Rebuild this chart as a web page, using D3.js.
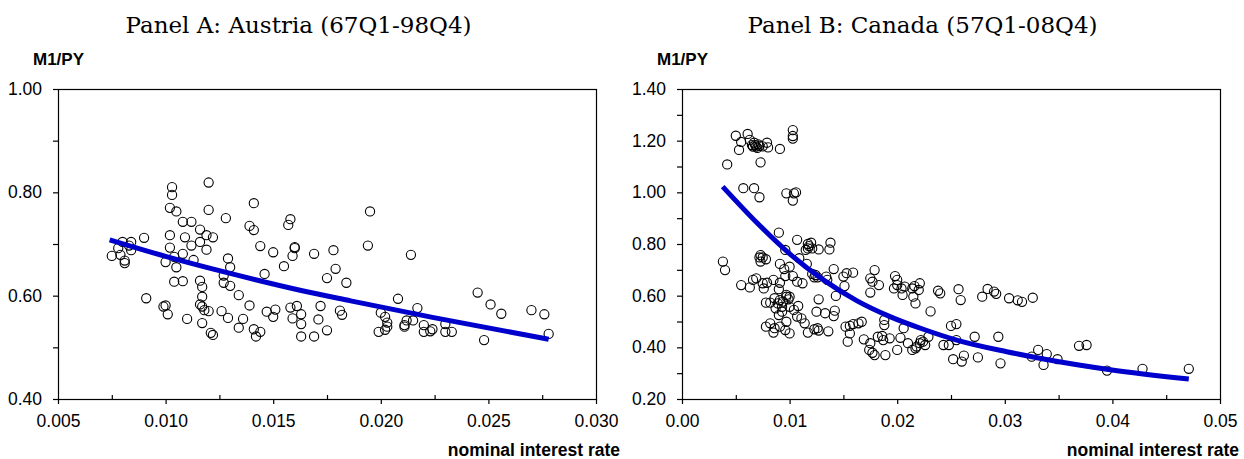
<!DOCTYPE html>
<html>
<head>
<meta charset="utf-8">
<script src="https://cdn.jsdelivr.net/npm/d3@7"></script>
<style>
body { margin: 0; background: #fff; }
svg { display: block; }
</style>
</head>
<body>
<svg id="chart" width="1244" height="459"></svg>
<script>
// ---- Panel A: Austria ----
const austriaRate = [0.0103,0.0103,0.0120,0.0102,0.0105,0.0120,0.0128,0.0141,0.0108,0.0112,
  0.0139,0.0141,0.0158,0.0157,0.0116,0.0102,0.0109,0.0119,0.0122,0.0116,
  0.0112,0.0102,0.0119,0.0090,0.0080,0.0084,0.0083,0.0078,0.0084,0.0075,
  0.0079,0.0081,0.0081,0.0104,0.0108,0.0113,0.0100,0.0105,0.0144,0.0150,
  0.0160,0.0160,0.0159,0.0169,0.0178,0.0155,0.0129,0.0130,0.0146,0.0127,
  0.0127,0.0130,0.0104,0.0108,0.0116,0.0117,0.0117,0.0091,0.0134,0.0139,
  0.0099,0.0100,0.0101,0.0116,0.0117,0.0118,0.0120,0.0126,0.0129,0.0110,
  0.0117,0.0136,0.0134,0.0147,0.0151,0.0150,0.0158,0.0161,0.0159,0.0163,
  0.0163,0.0141,0.0144,0.0142,0.0121,0.0122,0.0163,0.0169,0.0171,0.0175,
  0.0172,0.0175,0.0179,0.0184,0.0181,0.0182,0.0195,0.0194,0.0214,0.0208,
  0.0217,0.0200,0.0202,0.0203,0.0203,0.0199,0.0202,0.0211,0.0212,0.0215,
  0.0211,0.0220,0.0220,0.0223,0.0224,0.0230,0.0230,0.0233,0.0245,0.0251,
  0.0256,0.0248,0.0270,0.0276,0.0278];
const austriaM1 = [0.810,0.795,0.819,0.770,0.763,0.766,0.750,0.779,0.743,0.743,
  0.735,0.727,0.748,0.737,0.728,0.717,0.713,0.717,0.713,0.704,
  0.697,0.693,0.689,0.712,0.704,0.704,0.697,0.692,0.688,0.677,
  0.679,0.668,0.663,0.675,0.681,0.669,0.665,0.655,0.696,0.684,
  0.694,0.692,0.677,0.681,0.688,0.657,0.672,0.655,0.642,0.639,
  0.625,0.619,0.627,0.628,0.629,0.617,0.598,0.595,0.601,0.581,
  0.579,0.581,0.564,0.583,0.579,0.572,0.570,0.570,0.557,0.555,
  0.547,0.555,0.538,0.569,0.573,0.559,0.577,0.580,0.556,0.564,
  0.545,0.535,0.530,0.521,0.528,0.524,0.521,0.521,0.554,0.533,
  0.580,0.634,0.652,0.625,0.571,0.563,0.763,0.697,0.679,0.594,
  0.576,0.567,0.559,0.548,0.540,0.530,0.534,0.543,0.552,0.552,
  0.540,0.543,0.530,0.531,0.535,0.545,0.530,0.530,0.606,0.583,
  0.565,0.514,0.572,0.564,0.526];
const austriaFitRate = [0.0074,0.0100,0.0130,0.0163,0.0186,0.0224,0.0278];
const austriaFitM1 = [0.708,0.676,0.643,0.610,0.590,0.558,0.5155];

// ---- Panel B: Canada ----
const canadaRate = [0.0050,0.0061,0.0055,0.0053,0.0063,0.0065,0.0066,0.0068,0.0069,0.0071,
  0.0067,0.0079,0.0080,0.0091,0.0103,0.0103,0.0103,0.0042,0.0073,0.0057,
  0.0067,0.0072,0.0097,0.0104,0.0106,0.0103,0.0070,0.0072,0.0075,
  0.0090,0.0107,0.0096,0.0117,0.0118,0.0120,0.0117,0.0115,0.0121,0.0127,
  0.0138,0.0137,0.0073,0.0075,0.0072,0.0078,0.0073,0.0038,0.0040,0.0109,
  0.0116,0.0091,0.0095,0.0096,0.0100,0.0103,0.0107,0.0112,0.0121,0.0124,
  0.0126,0.0123,0.0134,0.0135,0.0141,0.0150,0.0153,0.0159,0.0151,0.0143,
  0.0127,0.0055,0.0063,0.0066,0.0069,0.0076,0.0075,0.0079,0.0085,0.0091,
  0.0090,0.0097,0.0100,0.0099,0.0179,0.0175,0.0177,0.0183,0.0175,0.0198,
  0.0200,0.0200,0.0197,0.0204,0.0205,0.0207,0.0214,0.0216,0.0221,0.0220,
  0.0215,0.0217,0.0231,0.0238,0.0240,0.0257,0.0259,0.0279,0.0284,0.0290,
  0.0292,0.0304,0.0078,0.0082,0.0086,0.0089,0.0091,0.0093,0.0094,0.0087,
  0.0093,0.0090,0.0097,0.0078,0.0082,0.0086,0.0085,0.0091,0.0096,0.0100,
  0.0097,0.0100,0.0104,0.0108,0.0107,0.0111,0.0114,0.0125,0.0133,0.0142,
  0.0141,0.0117,0.0123,0.0127,0.0126,0.0136,0.0152,0.0156,0.0159,0.0164,
  0.0167,0.0156,0.0154,0.0169,0.0175,0.0174,0.0177,0.0179,0.0182,0.0186,
  0.0187,0.0193,0.0189,0.0188,0.0188,0.0200,0.0203,0.0206,0.0210,0.0214,
  0.0218,0.0221,0.0222,0.0224,0.0226,0.0229,0.0217,0.0243,0.0248,0.0250,
  0.0255,0.0255,0.0252,0.0262,0.0260,0.0275,0.0272,0.0294,0.0296,0.0312,
  0.0316,0.0326,0.0325,0.0331,0.0336,0.0339,0.0349,0.0369,0.0376,0.0395,
  0.0428,0.0471];
const canadaM1 = [1.219,1.226,1.195,1.164,1.203,1.183,1.177,1.183,1.177,1.186,
  1.192,1.192,1.174,1.168,1.241,1.218,1.208,1.108,1.116,1.016,
  1.016,0.981,0.996,0.996,1.000,0.968,1.172,1.180,1.178,
  0.844,0.816,0.777,0.800,0.792,0.805,0.783,0.777,0.783,0.779,
  0.805,0.779,0.757,0.748,0.748,0.741,0.732,0.732,0.699,0.745,
  0.723,0.723,0.703,0.676,0.712,0.676,0.654,0.648,0.684,0.680,
  0.671,0.671,0.674,0.661,0.703,0.674,0.687,0.689,0.637,0.599,
  0.586,0.641,0.632,0.661,0.667,0.628,0.648,0.650,0.661,0.650,
  0.625,0.603,0.596,0.586,0.699,0.667,0.654,0.641,0.612,0.676,
  0.661,0.641,0.628,0.628,0.603,0.635,0.628,0.637,0.648,0.622,
  0.596,0.570,0.539,0.619,0.609,0.625,0.583,0.596,0.626,0.616,
  0.607,0.590,0.573,0.573,0.590,0.570,0.583,0.557,0.577,0.551,
  0.538,0.525,0.596,0.480,0.493,0.474,0.457,0.480,0.467,0.454,
  0.499,0.557,0.545,0.560,0.519,0.512,0.493,0.538,0.532,0.542,
  0.521,0.457,0.470,0.465,0.474,0.462,0.480,0.483,0.490,0.493,
  0.499,0.454,0.422,0.431,0.416,0.390,0.379,0.370,0.441,0.444,
  0.428,0.435,0.370,0.486,0.506,0.390,0.437,0.474,0.416,0.390,
  0.403,0.416,0.428,0.422,0.409,0.441,0.396,0.409,0.409,0.483,
  0.490,0.428,0.354,0.368,0.345,0.361,0.441,0.441,0.338,0.582,
  0.576,0.592,0.364,0.390,0.332,0.374,0.354,0.406,0.409,0.310,
  0.317,0.317];
const canadaFitRate = [0.00378,0.00694,0.01004,0.01314,0.01623,0.01933,0.02243,0.02553,0.03018,0.0336,0.0398,0.0471];
const canadaFitM1 = [1.022,0.883,0.761,0.661,0.581,0.519,0.470,0.428,0.383,0.355,0.3135,0.277];

// ---- ticks and labels ----
const austriaXTicks = [0.005,0.010,0.015,0.020,0.025,0.030];
const austriaXMinor = [0.0075,0.0125,0.0175,0.0225,0.0275];
const austriaYTicks = [0.40,0.60,0.80,1.00];
const austriaYMinor = [0.50,0.70,0.90];
const canadaXTicks = [0.00,0.01,0.02,0.03,0.04,0.05];
const canadaXMinor = [0.005,0.015,0.025,0.035,0.045];
const canadaYTicks = [0.20,0.40,0.60,0.80,1.00,1.20,1.40];
const canadaYMinor = [0.30,0.50,0.70,0.90,1.10,1.30];
const panelTitles = ["Panel A: Austria (67Q1-98Q4)", "Panel B: Canada (57Q1-08Q4)"];
const yTitle = "M1/PY";
const xTitle = "nominal interest rate";

const sans = "'Liberation Sans', Arial, sans-serif";
const svg = d3.select("#chart");

function drawPanel(p){
    var x = d3.scaleLinear().domain(p.xDomain).range([p.left, p.right]);
    var y = d3.scaleLinear().domain(p.yDomain).range([p.bottom, p.top]);
    var g = svg.append("g");

    // points
    g.selectAll("circle")
        .data(d3.range(p.rate.length))
        .enter()
        .append("circle")
        .attr("cx", i => x(p.rate[i]))
        .attr("cy", i => y(p.m1[i]))
        .attr("r", 4.6)
        .attr("fill", "none")
        .attr("stroke", "#000")
        .attr("stroke-width", 1.1);

    // fitted curve
    var line = d3.line()
        .x(i => x(p.fitRate[i]))
        .y(i => y(p.fitM1[i]))
        .curve(d3.curveMonotoneX);
    g.append("path")
        .attr("d", line(d3.range(p.fitRate.length)))
        .attr("fill", "none")
        .attr("stroke", "#0000cc")
        .attr("stroke-width", 5);

    // frame
    g.append("rect")
        .attr("x", p.left + 0.5).attr("y", p.top + 0.5)
        .attr("width", p.right - p.left).attr("height", p.bottom - p.top)
        .attr("fill", "none").attr("stroke", "#000").attr("stroke-width", 1.2);

    // x axis
    var xa = g.append("g")
        .attr("transform", "translate(0," + p.bottom + ")")
        .call(d3.axisBottom(x).tickValues(p.xTicks).tickFormat(d3.format(p.xFormat))
              .tickSize(5).tickPadding(11));
    var xm = g.append("g")
        .attr("transform", "translate(0," + p.bottom + ")")
        .call(d3.axisBottom(x).tickValues(p.xMinor).tickFormat("").tickSize(-4));

    // y axis
    var ya = g.append("g")
        .attr("transform", "translate(" + p.left + ",0)")
        .call(d3.axisLeft(y).tickValues(p.yTicks).tickFormat(d3.format(".2f"))
              .tickSize(5).tickPadding(11));
    var ym = g.append("g")
        .attr("transform", "translate(" + p.left + ",0)")
        .call(d3.axisLeft(y).tickValues(p.yMinor).tickFormat("").tickSize(5));

    [xa, xm, ya, ym].forEach(function(a){
        a.select(".domain").remove();
        a.selectAll("line").attr("stroke", "#000").attr("stroke-width", 1.2);
        a.selectAll("text").attr("font-family", sans).attr("font-size", "17.5px").attr("fill", "#000");
    });

    // titles
    svg.append("text")
        .attr("x", (p.left + p.right) / 2 - 28.5)
        .attr("y", 33)
        .attr("text-anchor", "middle")
        .style("font-family", "'DejaVu Serif', serif")
        .style("font-size", "23px")
        .text(p.title);

    svg.append("text")
        .attr("x", p.left - 25)
        .attr("y", 65)
        .style("font-family", sans)
        .style("font-size", "17px")
        .style("font-weight", "bold")
        .text(yTitle);

    svg.append("text")
        .attr("x", p.xTitleEnd)
        .attr("y", 456)
        .attr("text-anchor", "end")
        .style("font-family", sans)
        .style("font-size", "17.5px")
        .style("font-weight", "bold")
        .text(xTitle);
}

drawPanel({
    left: 58, right: 596, top: 89, bottom: 399, xTitleEnd: 620,
    xDomain: [0.005, 0.030], yDomain: [0.40, 1.00], xFormat: ".3f",
    xTicks: austriaXTicks, xMinor: austriaXMinor, yTicks: austriaYTicks, yMinor: austriaYMinor,
    rate: austriaRate, m1: austriaM1, fitRate: austriaFitRate, fitM1: austriaFitM1,
    title: panelTitles[0]
});

drawPanel({
    left: 682, right: 1220, top: 89, bottom: 399, xTitleEnd: 1239,
    xDomain: [0, 0.05], yDomain: [0.20, 1.40], xFormat: ".2f",
    xTicks: canadaXTicks, xMinor: canadaXMinor, yTicks: canadaYTicks, yMinor: canadaYMinor,
    rate: canadaRate, m1: canadaM1, fitRate: canadaFitRate, fitM1: canadaFitM1,
    title: panelTitles[1]
});
</script>
</body>
</html>
